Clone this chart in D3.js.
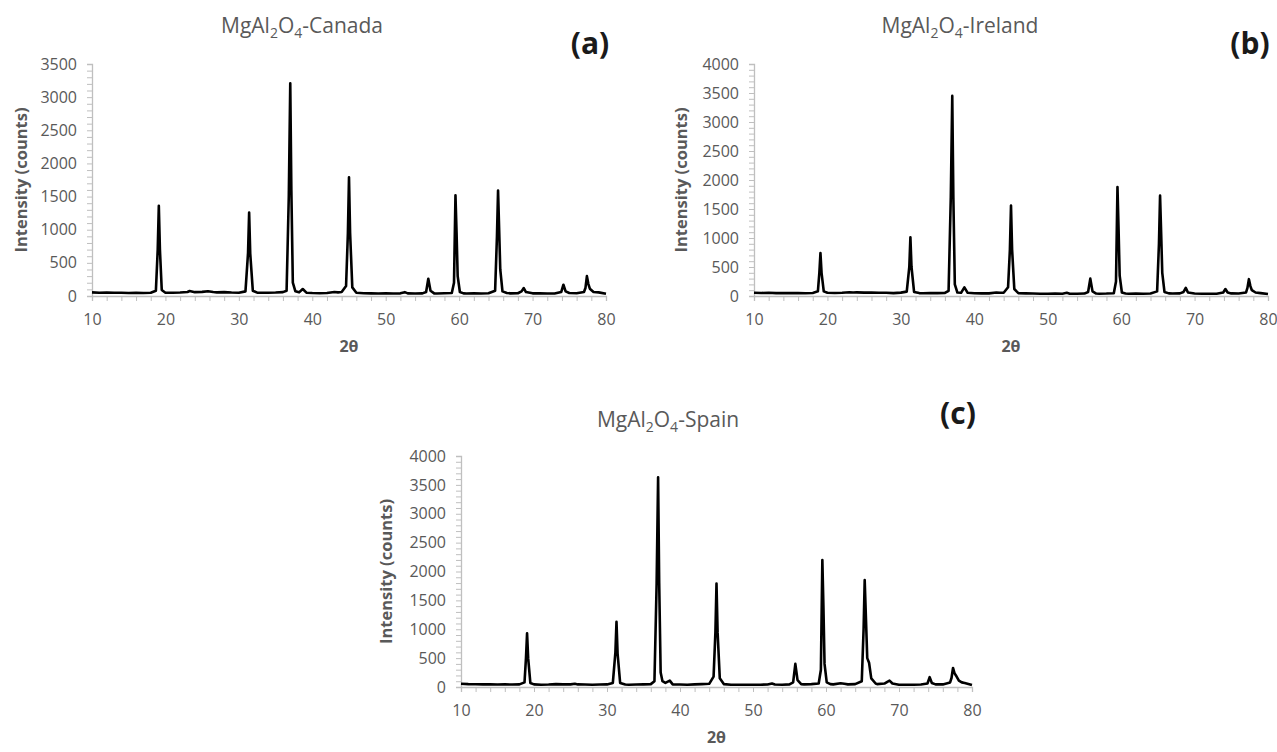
<!DOCTYPE html>
<html>
<head>
<meta charset="utf-8">
<script src="https://cdn.jsdelivr.net/npm/d3@7/dist/d3.min.js"></script>
<style>
  body { margin: 0; background: #fff; }
  text { font-family: "Open Sans", sans-serif; }
</style>
</head>
<body>
<svg id="chart" width="1277" height="752"></svg>
<script>
// tick labels
const xTicksMajor = [10, 20, 30, 40, 50, 60, 70, 80];
const yTicksCanada = [0, 500, 1000, 1500, 2000, 2500, 3000, 3500];
const yTicksOther = [0, 500, 1000, 1500, 2000, 2500, 3000, 3500, 4000];

// XRD patterns, [2theta, counts]
const canada = [[10,55],[11,50],[12,52],[13,48],[14,50],[15,46],[16,48],[17,45],[18,50],[18.7,80],[18.95,700],[19.1,1360],[19.25,700],[19.5,90],[20,50],[21,48],[22,52],[23,60],[23.3,75],[24,58],[25,62],[25.8,72],[26.5,60],[27,55],[28,58],[29,52],[30,50],[30.9,70],[31.25,650],[31.4,1260],[31.55,640],[31.9,80],[32.5,50],[33,48],[34,50],[35,52],[36,58],[36.5,80],[36.8,1500],[37.0,3210],[37.15,1600],[37.35,200],[37.7,70],[38.2,55],[38.7,105],[39.2,50],[40,45],[41,42],[42,45],[43,60],[43.5,55],[44,60],[44.6,150],[44.85,950],[45.0,1790],[45.15,950],[45.45,130],[46,50],[47,42],[48,40],[49,38],[50,40],[51,38],[52,40],[52.6,58],[53,40],[54,38],[55,40],[55.5,60],[55.8,260],[56.1,80],[56.6,40],[57,38],[58,42],[59,45],[59.3,200],[59.5,1520],[59.65,950],[59.8,300],[60.1,60],[60.6,40],[61,38],[62,40],[63,38],[64,42],[64.9,80],[65.15,900],[65.3,1590],[65.45,1000],[65.6,400],[65.9,70],[66.5,45],[67,40],[68,42],[68.5,70],[68.8,120],[69.1,60],[70,40],[71,40],[72,38],[73,38],[73.9,60],[74.2,170],[74.5,70],[75,45],[76,42],[77,60],[77.2,120],[77.4,300],[77.6,180],[77.8,110],[78.3,60],[79,55],[80,35]];

const ireland = [[10,55],[11,52],[12,55],[13,50],[14,52],[15,50],[16,50],[17,48],[18,52],[18.7,80],[18.9,400],[19.05,740],[19.2,400],[19.5,80],[20,55],[21,52],[22,55],[23,65],[23.5,60],[24,62],[25,58],[26,60],[27,55],[28,55],[29,50],[30,58],[30.8,75],[31.15,500],[31.3,1010],[31.45,500],[31.8,70],[32.5,50],[33,48],[34,50],[35,50],[36,52],[36.5,90],[36.8,1700],[37.0,3450],[37.15,1700],[37.35,200],[37.7,60],[38.2,55],[38.65,150],[39.1,55],[40,48],[41,45],[42,45],[43,60],[43.5,55],[44,55],[44.6,150],[44.85,800],[45.0,1560],[45.15,800],[45.45,120],[46,50],[47,45],[48,42],[49,40],[50,40],[51,42],[52,40],[52.6,55],[53,40],[54,40],[55,42],[55.5,70],[55.8,300],[56.1,80],[56.6,42],[57,40],[58,42],[59,48],[59.3,250],[59.5,1880],[59.65,1150],[59.8,350],[60.1,60],[60.6,42],[61,40],[62,42],[63,40],[64,42],[64.9,80],[65.15,900],[65.3,1730],[65.45,1080],[65.6,400],[65.9,70],[66.5,45],[67,42],[68,45],[68.5,70],[68.8,140],[69.1,60],[70,42],[71,40],[72,40],[73,40],[73.9,60],[74.2,120],[74.5,60],[75,45],[76,42],[77,60],[77.2,140],[77.4,290],[77.6,170],[77.8,100],[78.3,60],[79,50],[80,35]];

const spain = [[10,55],[11,50],[12,48],[13,45],[14,45],[15,42],[16,45],[17,42],[18,45],[18.7,80],[18.9,500],[19.05,930],[19.2,500],[19.5,70],[20,45],[21,40],[22,42],[23,50],[24,45],[25,45],[25.6,55],[26,45],[27,42],[28,40],[29,42],[30,45],[30.8,70],[31.15,600],[31.3,1130],[31.45,580],[31.8,70],[32.5,42],[33,40],[34,42],[35,45],[36,50],[36.5,100],[36.8,1800],[37.0,3630],[37.15,1800],[37.35,250],[37.6,100],[38,70],[38.6,110],[39,45],[40,42],[41,40],[42,45],[43,50],[44,55],[44.6,180],[44.85,950],[45.0,1790],[45.15,950],[45.45,150],[46,50],[47,40],[48,38],[49,38],[50,40],[51,40],[52,42],[52.6,60],[53,42],[54,40],[55,45],[55.5,80],[55.8,400],[56.1,120],[56.6,50],[57,45],[58,50],[59,60],[59.3,300],[59.5,2200],[59.65,1370],[59.8,400],[60.1,80],[60.6,50],[61,45],[62,65],[62.5,55],[63,45],[64,50],[64.9,100],[65.15,1000],[65.3,1850],[65.45,1270],[65.65,500],[65.9,420],[66.2,150],[66.8,60],[67,50],[68,60],[68.4,90],[68.7,110],[69.1,60],[70,40],[71,40],[72,40],[73,42],[73.9,60],[74.2,170],[74.5,70],[75,45],[76,45],[77,80],[77.2,160],[77.4,330],[77.6,240],[77.8,200],[78.2,110],[78.6,80],[79,70],[80,35]];

const panels = [
  { data: canada, yTicks: yTicksCanada, place: "Canada", tag: "(a)",
    left: 92, right: 606, top: 64, bottom: 296, titleX: 302, titleY: 33, tagX: 590, tagY: 54, yTitleX: 20 },
  { data: ireland, yTicks: yTicksOther, place: "Ireland", tag: "(b)",
    left: 754, right: 1268, top: 64, bottom: 296, titleX: 960, titleY: 33, tagX: 1250, tagY: 54, yTitleX: 680 },
  { data: spain, yTicks: yTicksOther, place: "Spain", tag: "(c)",
    left: 461, right: 972, top: 456, bottom: 687, titleX: 668, titleY: 427, tagX: 958, tagY: 424, yTitleX: 385 }
];

const svg = d3.select("#chart");
const grey = "#595959";
const axisGrey = "#bfbfbf";

panels.forEach(p => {
  const g = svg.append("g");

  const x = d3.scaleLinear().domain([10, 80]).range([p.left, p.right]);
  const yMax = p.yTicks[p.yTicks.length - 1];
  const y = d3.scaleLinear().domain([0, yMax]).range([p.bottom, p.top]);

  // x axis: minor tick every 2 degrees, labels on the tens
  const xAxis = g.append("g")
    .attr("transform", "translate(0," + p.bottom + ")")
    .call(d3.axisBottom(x)
      .tickValues(d3.range(10, 81, 2))
      .tickSize(5)
      .tickPadding(13)
      .tickFormat(d => xTicksMajor.includes(d) ? d : ""));

  // y axis: minor tick every 100 counts
  const yAxis = g.append("g")
    .attr("transform", "translate(" + p.left + ",0)")
    .call(d3.axisLeft(y)
      .tickValues(d3.range(0, yMax + 1, 100))
      .tickSize(5)
      .tickPadding(10)
      .tickFormat(d => p.yTicks.includes(d) ? d : ""));

  [xAxis, yAxis].forEach(a => {
    a.select(".domain").attr("stroke", axisGrey).attr("stroke-width", 1.3);
    a.selectAll(".tick line").attr("stroke", axisGrey).attr("stroke-width", 1);
    a.selectAll(".tick text").attr("fill", grey).style("font-size", "16px");
  });

  // pattern
  const line = d3.line().x(d => x(d[0])).y(d => y(d[1]));
  g.append("path")
    .datum(p.data)
    .attr("d", line)
    .attr("fill", "none")
    .attr("stroke", "#000")
    .attr("stroke-width", 2.6)
    .attr("stroke-linejoin", "round");

  // axis titles
  g.append("text")
    .attr("transform", "translate(" + p.yTitleX + "," + (p.top + p.bottom) / 2 + ") rotate(-90)")
    .attr("text-anchor", "middle")
    .attr("dominant-baseline", "central")
    .attr("fill", grey)
    .style("font-size", "16.5px")
    .style("font-weight", "bold")
    .text("Intensity (counts)");

  g.append("text")
    .attr("x", (p.left + p.right) / 2)
    .attr("y", p.bottom + 56)
    .attr("text-anchor", "middle")
    .attr("fill", grey)
    .style("font-size", "16px")
    .style("font-weight", "bold")
    .text("2θ");

  // chart title with subscripts
  const t = g.append("text")
    .attr("x", p.titleX)
    .attr("y", p.titleY)
    .attr("text-anchor", "middle")
    .attr("fill", grey)
    .style("font-size", "21px");
  t.append("tspan").text("MgAl");
  t.append("tspan").attr("dy", 5).style("font-size", "14px").text("2");
  t.append("tspan").attr("dy", -5).text("O");
  t.append("tspan").attr("dy", 5).style("font-size", "14px").text("4");
  t.append("tspan").attr("dy", -5).text("-" + p.place);

  // panel letter
  g.append("text")
    .attr("x", p.tagX)
    .attr("y", p.tagY)
    .attr("text-anchor", "middle")
    .attr("fill", "#1a1a1a")
    .style("font-size", "30px")
    .style("font-weight", "bold")
    .text(p.tag);
});
</script>
</body>
</html>
